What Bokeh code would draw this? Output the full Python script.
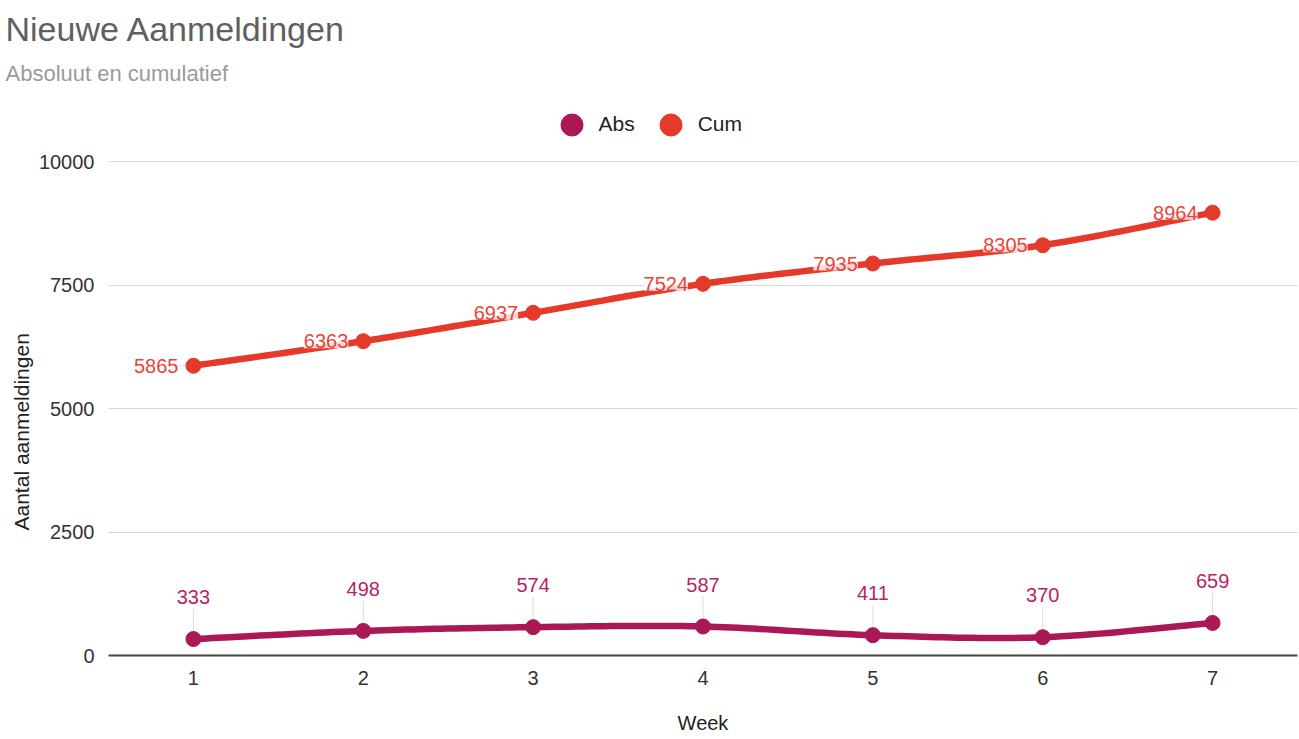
import numpy as np
from bokeh.plotting import figure
from bokeh.models import Legend, LegendItem, FixedTicker, ColumnDataSource, Title, Text
from bokeh.core.properties import value
from bokeh.embed import file_html
from bokeh.resources import INLINE

weeks = [1, 2, 3, 4, 5, 6, 7]
abs_vals = [333, 498, 574, 587, 411, 370, 659]
cum_vals = [5865, 6363, 6937, 7524, 7935, 8305, 8964]
y_ticks = [0, 2500, 5000, 7500, 10000]

ABS_C = "#aa1955"
CUM_C = "#e5392a"
FONT = "Liberation Sans"

W, H = 1299, 739
FL, FR, FB = 108, 1297, 655
Y10K = 161          # pixel row of the 10000 gridline
FT = 90             # frame top (room for the legend inside the frame)
XR = (0.5, 7.5)
px_y = (FB - Y10K) / 10000.0
YR = (0, (FB - FT) / px_y)
px_x = (FR - FL) / (XR[1] - XR[0])


def smooth(xs, ys, n=24):
    xs = np.asarray(xs, float)
    ys = np.asarray(ys, float)
    ox, oy = [], []
    m = len(xs)
    for i in range(m - 1):
        p0 = (xs[max(i - 1, 0)], ys[max(i - 1, 0)])
        p1 = (xs[i], ys[i])
        p2 = (xs[i + 1], ys[i + 1])
        p3 = (xs[min(i + 2, m - 1)], ys[min(i + 2, m - 1)])
        c1 = (p1[0] + (p2[0] - p0[0]) / 6, p1[1] + (p2[1] - p0[1]) / 6)
        c2 = (p2[0] - (p3[0] - p1[0]) / 6, p2[1] - (p3[1] - p1[1]) / 6)
        t = np.linspace(0, 1, n, endpoint=(i == m - 2))
        a = (1 - t) ** 3
        b = 3 * (1 - t) ** 2 * t
        c = 3 * (1 - t) * t ** 2
        d = t ** 3
        ox.extend(a * p1[0] + b * c1[0] + c * c2[0] + d * p2[0])
        oy.extend(a * p1[1] + b * c1[1] + c * c2[1] + d * p2[1])
    return ox, oy


p = figure(width=W, height=H, output_backend="svg", toolbar_location=None,
           x_range=XR, y_range=YR, title_location=None,
           min_border_left=FL, min_border_right=W - FR,
           min_border_top=FT, min_border_bottom=H - FB)
p.outline_line_color = None
p.background_fill_color = "white"

# axes
p.xaxis.ticker = FixedTicker(ticks=weeks)
p.yaxis.ticker = FixedTicker(ticks=y_ticks)
for ax in (p.xaxis[0], p.yaxis[0]):
    ax.major_tick_line_color = None
    ax.minor_tick_line_color = None
    ax.major_label_text_font = FONT
    ax.major_label_text_font_size = "20px"
    ax.major_label_text_color = "#333333"
    ax.axis_label_text_font = FONT
    ax.axis_label_text_font_size = "20px"
    ax.axis_label_text_font_style = "normal"
    ax.axis_label_text_color = "#222222"
p.yaxis.axis_line_color = None
p.yaxis.major_label_standoff = 8
p.xaxis.axis_line_color = "#444444"
p.xaxis.axis_line_width = 2
p.xaxis.major_label_standoff = 9
p.xaxis.axis_label = "Week"
p.xaxis.axis_label_standoff = 24
p.xgrid.grid_line_color = None
p.ygrid.grid_line_color = "#d9d9d9"
p.ygrid.grid_line_width = 1.2

# leader lines
lead_abs_len = 30 / px_y
p.segment(x0=weeks, y0=abs_vals, x1=weeks,
          y1=[v + lead_abs_len for v in abs_vals], line_color="#dddddd", line_width=1)
lead_cum_len = 15 / px_x
p.segment(x0=[w - lead_cum_len for w in weeks], y0=cum_vals, x1=weeks, y1=cum_vals,
          line_color="#dddddd", line_width=1)

# lines
ax_, ay_ = smooth(weeks, abs_vals)
cx_, cy_ = smooth(weeks, cum_vals)
p.line(ax_, ay_, line_color=ABS_C, line_width=6.5, line_cap="round", line_join="round")
p.line(cx_, cy_, line_color=CUM_C, line_width=6.5, line_cap="round", line_join="round")
r_abs = p.scatter(weeks, abs_vals, size=15, fill_color=ABS_C, line_color=ABS_C)
r_cum = p.scatter(weeks, cum_vals, size=15, fill_color=CUM_C, line_color=CUM_C)

# data labels
src_abs = ColumnDataSource(dict(x=weeks, y=abs_vals, t=[str(v) for v in abs_vals]))
src_cum = ColumnDataSource(dict(x=weeks, y=cum_vals, t=[str(v) for v in cum_vals]))
p.text(x="x", y="y", text="t", source=src_abs, y_offset=-42, text_align="center",
       text_baseline="middle", text_font=value(FONT), text_font_size="20px",
       text_color="#b8245f")
cum_kw = dict(x="x", y="y", text="t", source=src_cum, x_offset=-15, text_align="right",
              text_baseline="middle", text_font=value(FONT), text_font_size="20px",
              text_color="#e8453a")
if "background_fill_color" in Text.properties():
    cum_kw.update(background_fill_color="white", background_fill_alpha=0.8)
p.text(**cum_kw)

# legend (inside the frame, above the 10000 gridline)
legend = Legend(items=[LegendItem(label="Abs", renderers=[r_abs]),
                       LegendItem(label="Cum", renderers=[r_cum])],
                orientation="horizontal", location=(435.5, FB - 151.5),
                glyph_width=55, glyph_height=55, label_standoff=-11, spacing=8,
                padding=0, margin=0, border_line_color=None,
                background_fill_alpha=0,
                label_text_font=FONT, label_text_font_size="21px",
                label_text_color="#222222")
p.add_layout(legend, "center")

# titles
p.add_layout(Title(text="Absoluut en cumulatief", align="left", offset=-103,
                   text_font=FONT, text_font_size="22px", text_font_style="normal",
                   text_color="#9a9a9a", standoff=9), "above")
p.add_layout(Title(text="Nieuwe Aanmeldingen", align="left", offset=-103,
                   text_font=FONT, text_font_size="34px", text_font_style="normal",
                   text_color="#5f5f5f", standoff=14), "above")
p.add_layout(Title(text="Aantal aanmeldingen", align="left", offset=125,
                   text_font=FONT, text_font_size="21px", text_font_style="normal",
                   text_color="#222222", standoff=6), "left")

open("out.html", "w").write(file_html(p, INLINE))
